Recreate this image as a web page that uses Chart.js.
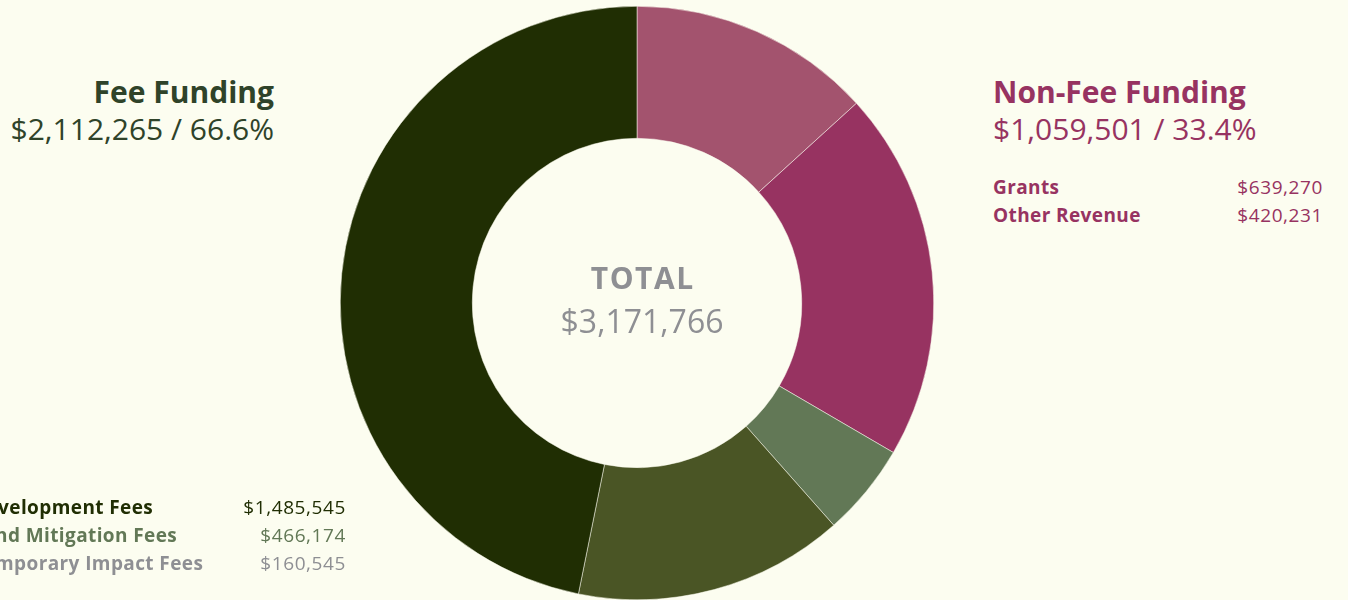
<!DOCTYPE html>
<html>
<head>
<meta charset="utf-8">
<script src="https://cdn.jsdelivr.net/npm/chart.js@4.4.0/dist/chart.umd.min.js"></script>
<style>
  html, body { margin: 0; padding: 0; }
  body {
    width: 1348px; height: 600px; overflow: hidden; position: relative;
    background: #fcfdf0; font-family: "Open Sans", Lato, sans-serif;
  }
  #wrap { position: absolute; left: 340px; top: 6px; width: 594px; height: 594px; }
  .abs { position: absolute; white-space: nowrap; }
  .head { font-weight: 700; font-size: 30px; line-height: 1; }
  .sub { font-weight: 400; font-size: 30px; line-height: 1; }
  .item { font-size: 19px; line-height: 1; letter-spacing: 0.6px; }
  .item b { font-weight: 700; letter-spacing: 0.4px; }
</style>
</head>
<body>
<div id="wrap"><canvas id="funding" width="594" height="594"></canvas></div>

<div class="abs head" id="feeHead" style="right:1074px; top:77px; color:#2f4329;">Fee Funding</div>
<div class="abs sub" id="feeSub" style="right:1074px; top:114px; color:#2f4329;"></div>

<div class="abs head" id="nonHead" style="left:993px; top:77px; color:#973361;">Non-Fee Funding</div>
<div class="abs sub" id="nonSub" style="left:993px; top:114px; color:#973361;"></div>

<div class="abs" id="nonList" style="left:993px; top:178px; width:330px;"></div>
<div class="abs" id="feeList" style="left:-28px; top:498px; width:374px;"></div>

<div class="abs" style="left:537px; top:263px; width:210px; text-align:center; color:#8e8f93;">
  <div style="font-weight:700; font-size:30px; line-height:1; letter-spacing:1.5px; padding-left:1.5px;">TOTAL</div>
  <div id="total" style="font-size:32px; line-height:1; margin-top:12px;"></div>
</div>

<script>
// funding sources, clockwise from 12 o'clock
var labels = ['Other Revenue', 'Grants', 'Temporary Impact Fees', 'Land Mitigation Fees', 'Development Fees'];
var amounts = [420231, 639270, 160545, 466174, 1485545];
var sliceColors = ['#a3536e', '#973361', '#627856', '#4a5525', '#202e03'];

// which slices belong to which group, and how the side lists are ordered
var nonFeeItems = ['Grants', 'Other Revenue'];
var feeItems = ['Development Fees', 'Land Mitigation Fees', 'Temporary Impact Fees'];
var feeTextColors = ['#202e03', '#627856', '#8e8f93'];

// published totals (rounded at the source, so they can differ by a dollar)
var groupTotals = [2112265, 1059501];
var grandTotal = 3171766;

function money(v) { return '$' + v.toLocaleString('en-US'); }
function amountOf(name) { return amounts[labels.indexOf(name)]; }
function pct(v) { return (v / grandTotal * 100).toFixed(1) + '%'; }

document.getElementById('total').textContent = money(grandTotal);
document.getElementById('feeSub').textContent = money(groupTotals[0]) + ' / ' + pct(groupTotals[0]);
document.getElementById('nonSub').textContent = money(groupTotals[1]) + ' / ' + pct(groupTotals[1]);

function listRows(el, names, colors) {
    names.forEach(function (n, i) {
        var row = document.createElement('div');
        row.className = 'item';
        row.style.position = 'relative';
        row.style.height = '28px';
        row.style.color = colors[i];
        row.innerHTML = '<b></b><span style="position:absolute; right:0; top:0;"></span>';
        row.querySelector('b').textContent = n;
        row.querySelector('span').textContent = money(amountOf(n));
        el.appendChild(row);
    });
}
listRows(document.getElementById('nonList'), nonFeeItems, ['#973361', '#973361']);
listRows(document.getElementById('feeList'), feeItems, feeTextColors);

new Chart(document.getElementById('funding').getContext('2d'), {
    type: 'doughnut',
    data: {
        labels: labels,
        datasets: [{
            data: amounts,
            backgroundColor: sliceColors,
            borderColor: '#fcfdf0',
            borderWidth: 0.5
        }]
    },
    options: {
        responsive: false,
        animation: false,
        cutout: '55.5%',
        plugins: {
            legend: { display: false },
            tooltip: { enabled: false }
        }
    }
});
</script>
</body>
</html>
